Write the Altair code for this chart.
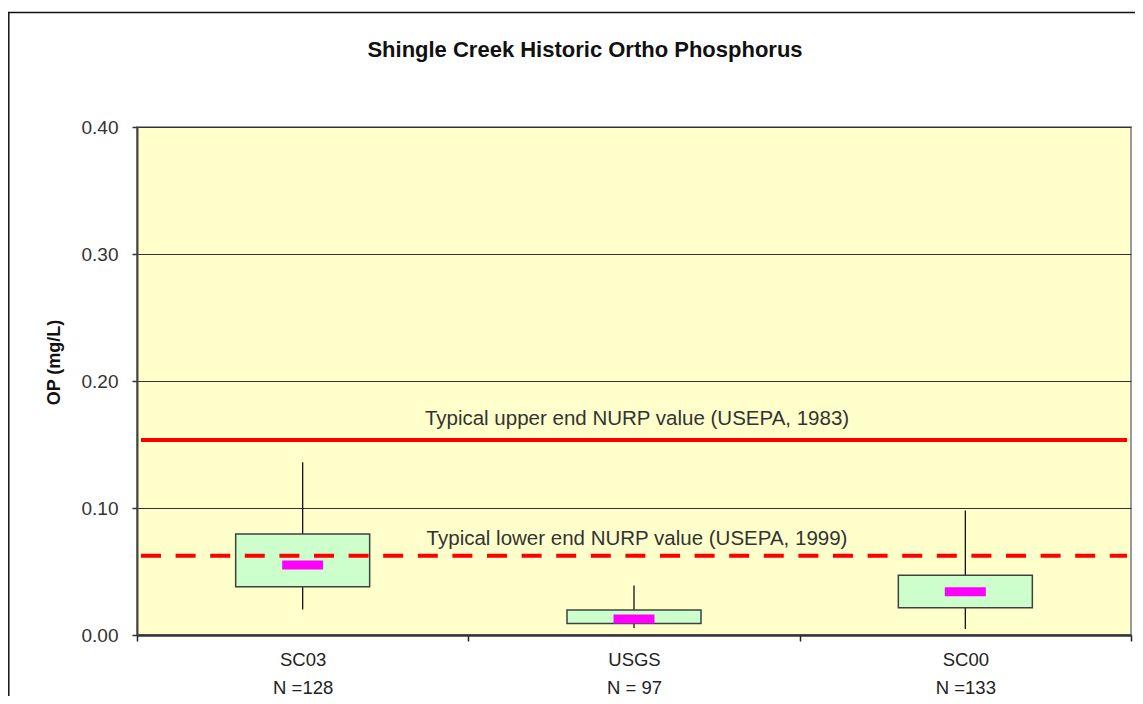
import altair as alt
import pandas as pd

# ---- data ----
sites = ["SC03", "USGS", "SC00"]
n_labels = ["N =128", "N = 97", "N =133"]
whisker_low = [0.020, 0.0055, 0.0047]
box_low = [0.038, 0.0090, 0.0215]
box_high = [0.0795, 0.0197, 0.0470]
whisker_high = [0.136, 0.039, 0.098]
center_val = [0.0551, 0.0126, 0.0341]

ref_labels = ["Typical upper end NURP value (USEPA, 1983)",
              "Typical lower end NURP value (USEPA, 1999)"]
ref_values = [0.1535, 0.0625]

title_text = "Shingle Creek Historic Ortho Phosphorus"
y_title = "OP (mg/L)"
y_ticks = [0.0, 0.1, 0.2, 0.3, 0.4]

FONT = "Liberation Sans"
W, H = 994, 508

boxes = pd.DataFrame({
    "label": [f"{s}|{n}" for s, n in zip(sites, n_labels)],
    "lo": whisker_low, "q1": box_low, "q3": box_high,
    "hi": whisker_high, "mid": center_val,
})
order = list(boxes["label"])
refs = pd.DataFrame({"text": ref_labels, "v": ref_values})
one = pd.DataFrame({"k": [0]})

x_enc = alt.X(
    "label:N", sort=order,
    scale=alt.Scale(paddingInner=0, paddingOuter=0),
    axis=alt.Axis(
        title=None, labelExpr="split(datum.label, '|')", labelAngle=0,
        tickBand="extent", labelLineHeight=28, labelFontSize=18.5,
        labelFont=FONT, labelColor="#222", labelPadding=9, tickSize=6,
        tickColor="#222", tickWidth=1.5, grid=False, domainWidth=2.5,
        domainColor="#333",
    ),
)
y_scale = alt.Scale(domain=[0, 0.4], nice=False)
y_axis = alt.Axis(
    values=y_ticks, format=".2f", title=y_title, titleFont=FONT,
    titleFontSize=18, titleFontWeight="bold", titleColor="#111",
    titleX=-74, titleY=235, labelFont=FONT, labelFontSize=19,
    labelColor="#333", labelPadding=14, tickSize=5, tickColor="#333",
    tickWidth=1.5, domainColor="#444", domainWidth=2, grid=True,
    gridColor="#333", gridWidth=1,
)

base = alt.Chart(boxes)

whiskers = base.mark_rule(color="#111", strokeWidth=1.3).encode(
    x=x_enc, y=alt.Y("lo:Q", scale=y_scale, axis=y_axis), y2="hi:Q")

box = base.mark_bar(size=134, color="#CCFFCC", stroke="#404040",
                    strokeWidth=1.5, opacity=1).encode(
    x=alt.X("label:N", sort=order), y="q1:Q", y2="q3:Q")

mid = base.mark_tick(color="#FF00FF", size=41, thickness=9,
                     opacity=1).encode(
    x=alt.X("label:N", sort=order), y="mid:Q")

upper = alt.Chart(refs[refs.index == 0])
lower = alt.Chart(refs[refs.index == 1])

upper_line = upper.mark_rule(color="#FF0000", strokeWidth=4).encode(
    y="v:Q", x=alt.value(4), x2=alt.value(W - 4))
lower_line = lower.mark_rule(color="#FF0000", strokeWidth=4,
                             strokeDash=[20, 14.6]).encode(
    y="v:Q", x=alt.value(4), x2=alt.value(W - 4))

upper_text = upper.mark_text(font=FONT, fontSize=20.5, color="#333",
                             baseline="alphabetic", align="center",
                             dy=-15).encode(
    y="v:Q", x=alt.value(500), text="text:N")
lower_text = lower.mark_text(font=FONT, fontSize=20.5, color="#333",
                             baseline="alphabetic", align="center",
                             dy=-11).encode(
    y="v:Q", x=alt.value(500), text="text:N")

title = alt.Chart(pd.DataFrame({"t": [title_text]})).mark_text(
    font=FONT, fontSize=22, fontWeight="bold", color="#111",
    baseline="alphabetic", align="center").encode(
    x=alt.value(448), y=alt.value(-70.5), text="t:N")

frame_left = alt.Chart(one).mark_rule(color="#111", strokeWidth=1.5).encode(
    x=alt.value(-128.2), y=alt.value(-114.5), y2=alt.value(H + 61))
frame_top = alt.Chart(one).mark_rule(color="#111", strokeWidth=1.5).encode(
    y=alt.value(-114.5), x=alt.value(-129), x2=alt.value(W + 4))

chart = alt.layer(
    whiskers, box, mid, upper_line, lower_line, upper_text, lower_text,
    title, frame_left, frame_top,
).properties(
    width=W, height=H,
    autosize=alt.AutoSizeParams(type="none"),
    padding={"left": 129, "top": 119, "right": 4, "bottom": 61},
    background="white",
).configure_view(
    fill="#FFFFCC", stroke="#999999", strokeWidth=2,
)

chart.save("out.html", embed_options={"renderer": "svg", "actions": False})
